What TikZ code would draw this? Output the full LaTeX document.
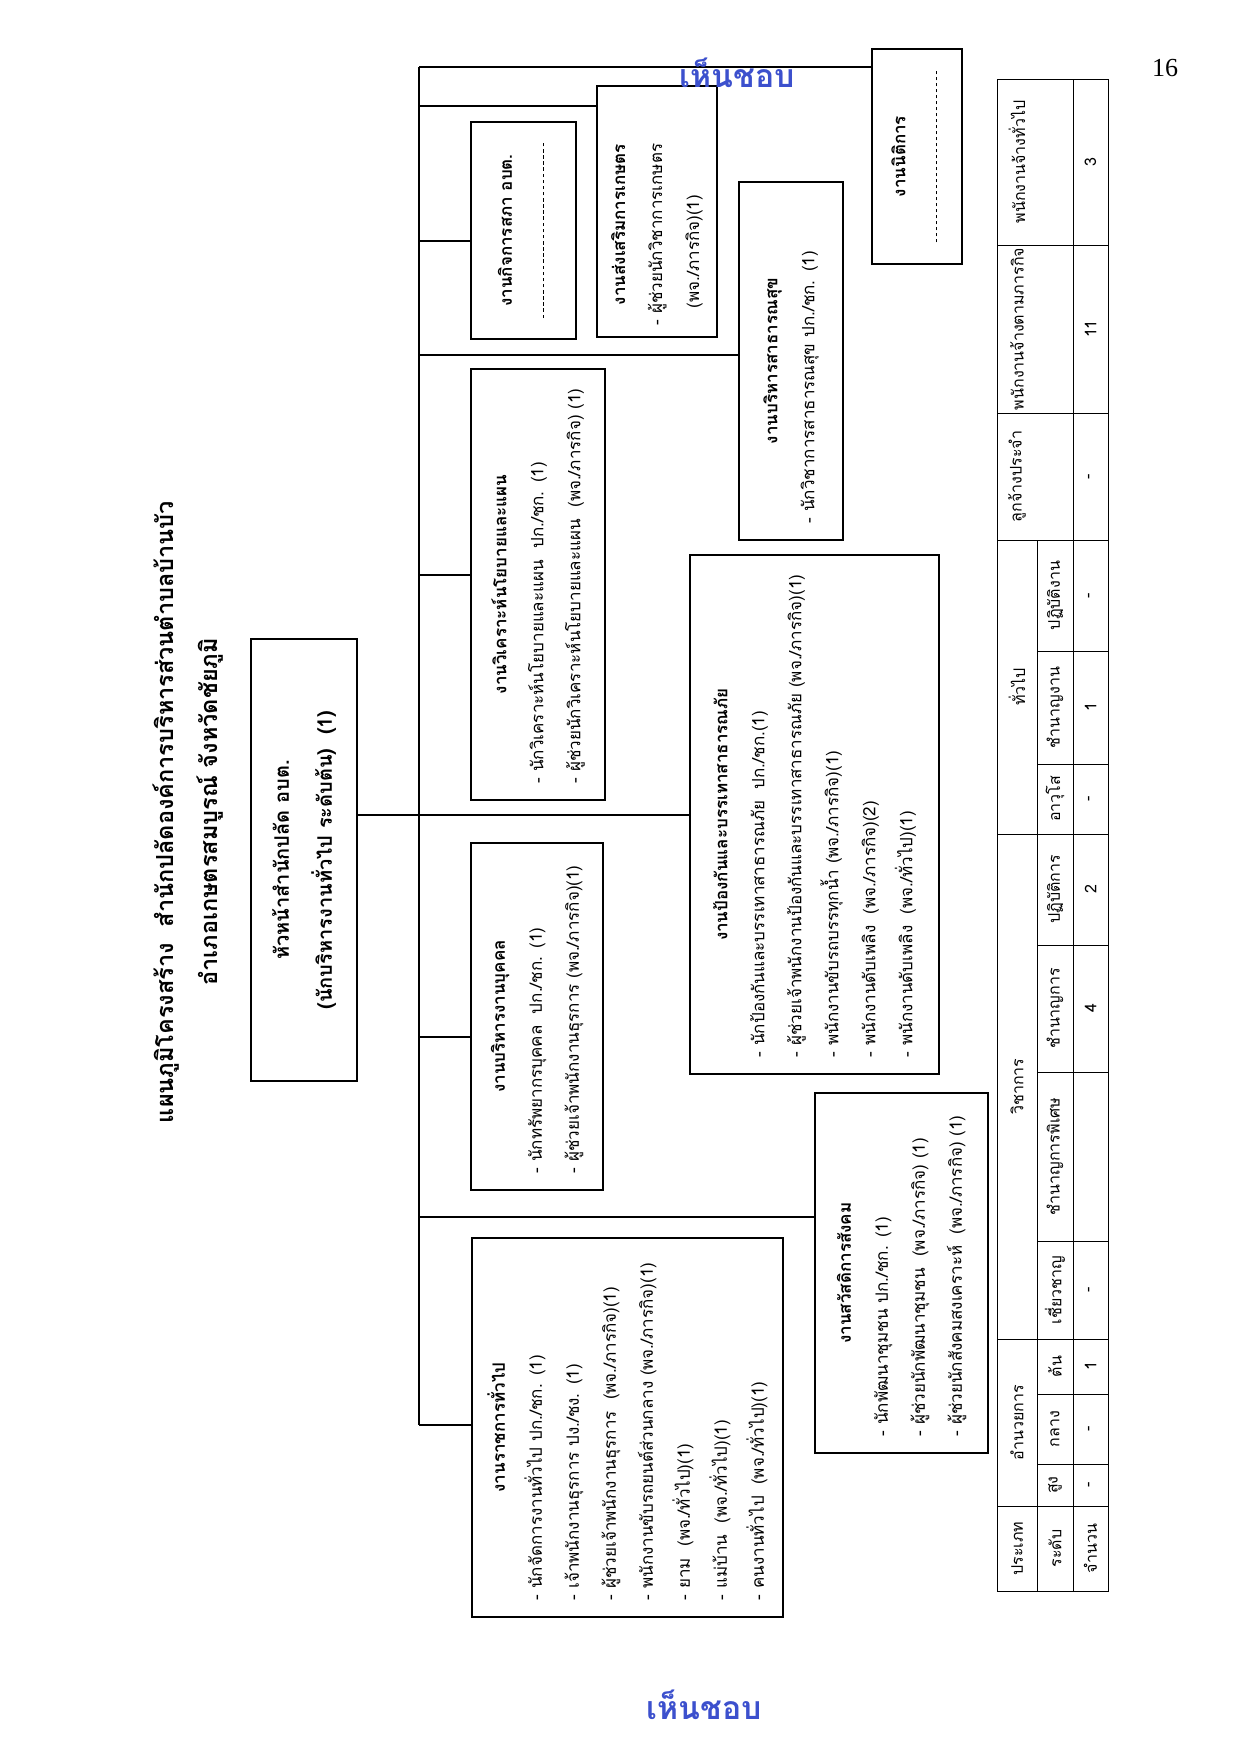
\documentclass[tikz,border=0pt]{standalone}
\usepackage{fontspec}
\setmainfont{Loma}[Script=Thai]
\newfontfamily\numfont{Liberation Serif}
\usetikzlibrary{positioning}
\definecolor{stampblue}{RGB}{60,80,205}
% a dashed rule inside a node
\newcommand{\dashfill}[1]{\makebox[#1]{\xleaders\hbox to 6pt{\hss\rule[5pt]{3.5pt}{1.2pt}\hss}\hfill}}

\begin{document}
\begin{tikzpicture}[x=1pt, y=-1pt, box/.style={draw, line width=2.4pt, rotate=90, inner xsep=17pt, inner ysep=0pt, align=left, font=\fontsize{17}{37}\selectfont}, cbox/.style={box, align=center}, ln/.style={line width=2pt}, tab/.style={line width=1pt}, cell/.style={rotate=90, inner sep=0pt, font=\fontsize{16}{20}\selectfont}, stamp/.style={text=stampblue, font=\bfseries\fontsize{32}{34}\selectfont}]
                \useasboundingbox (0,0) rectangle (1240,1753);
                % title and page number
                \node[rotate=90, align=center, font=\bfseries\fontsize{23.5}{44}\selectfont] (title) at (188,812) {แผนภูมิโครงสร้าง\ \ สำนักปลัดองค์การบริหารส่วนตำบลบ้านบัว\\อำเภอเกษตรสมบูรณ์ จังหวัดชัยภูมิ};
                \node[font=\numfont\fontsize{26}{28}\selectfont] (page) at (1165,68) {16};
                % nodes
                \node[cbox, line width=2.8pt, minimum width=442pt, minimum height=106pt, font=\bfseries\fontsize{20}{43}\selectfont] (head) at (304,860) {หัวหน้าสำนักปลัด อบต.\\(นักบริหารงานทั่วไป ระดับต้น)\ \ (1)};
                \node[box, minimum width=431pt, minimum height=134pt, text width=397pt] (wikro) at (538,584.5) {\makebox[\hsize]{\bfseries งานวิเคราะห์นโยบายและแผน}\\- นักวิเคราะห์นโยบายและแผน\ \ ปก./ชก. (1)\\- ผู้ช่วยนักวิเคราะห์นโยบายและแผน\ \ (พจ./ภารกิจ) (1)};
                \node[box, minimum width=347pt, minimum height=132pt, text width=313pt] (bukkhon) at (537,1016.5) {\makebox[\hsize]{\bfseries งานบริหารงานบุคคล}\\- นักทรัพยากรบุคคล\ \ ปก./ชก. (1)\\- ผู้ช่วยเจ้าพนักงานธุรการ (พจ./ภารกิจ)(1)};
                \node[box, minimum width=379pt, minimum height=311pt, text width=345pt] (ratchakan) at (627.5,1427.5) {\makebox[\hsize]{\bfseries งานราชการทั่วไป}\\- นักจัดการงานทั่วไป ปก./ชก. (1)\\- เจ้าพนักงานธุรการ ปง./ชง. (1)\\- ผู้ช่วยเจ้าพนักงานธุรการ\ \ (พจ./ภารกิจ)(1)\\- พนักงานขับรถยนต์ส่วนกลาง (พจ./ภารกิจ)(1)\\- ยาม\ \ (พจ./ทั่วไป)(1)\\- แม่บ้าน\ \ (พจ./ทั่วไป)(1)\\- คนงานทั่วไป\ \ (พจ./ทั่วไป)(1)};
                \node[cbox, minimum width=217pt, minimum height=105pt] (sapha) at (523.5,230.5) {{\bfseries งานกิจการสภา อบต.}\\\dashfill{178pt}};
                \node[box, inner xsep=12pt, minimum width=251pt, minimum height=120pt, text width=227pt] (kaset) at (657,211.5) {\hspace*{20pt}{\bfseries งานส่งเสริมการเกษตร}\\- ผู้ช่วยนักวิชาการเกษตร\\\hspace*{17pt}(พจ./ภารกิจ)(1)};
                \node[box, minimum width=358pt, minimum height=104pt, text width=324pt] (satha) at (791,361) {\makebox[\hsize]{\bfseries งานบริหารสาธารณสุข}\\- นักวิชาการสาธารณสุข ปก./ชก. (1)};
                \node[box, minimum width=519pt, minimum height=249pt, text width=485pt] (pongkan) at (814.5,814.5) {\makebox[\hsize]{\bfseries งานป้องกันและบรรเทาสาธารณภัย}\\- นักป้องกันและบรรเทาสาธารณภัย\ \ ปก./ชก.(1)\\- ผู้ช่วยเจ้าพนักงานป้องกันและบรรเทาสาธารณภัย (พจ./ภารกิจ)(1)\\- พนักงานขับรถบรรทุกน้ำ (พจ./ภารกิจ)(1)\\- พนักงานดับเพลิง\ \ (พจ./ภารกิจ)(2)\\- พนักงานดับเพลิง\ \ (พจ./ทั่วไป)(1)};
                \node[box, minimum width=360pt, minimum height=173pt, text width=326pt] (sawat) at (901.5,1273) {\makebox[\hsize]{\bfseries งานสวัสดิการสังคม}\\- นักพัฒนาชุมชน ปก./ชก. (1)\\- ผู้ช่วยนักพัฒนาชุมชน\ \ (พจ./ภารกิจ) (1)\\- ผู้ช่วยนักสังคมสงเคราะห์\ \ (พจ./ภารกิจ) (1)};
                \node[cbox, minimum width=215pt, minimum height=90pt] (niti) at (917,156.5) {{\bfseries งานนิติการ}\\\dashfill{174pt}};
                % junctions on the main line
                \coordinate (busR) at (419,67);
                \foreach \b/\yy in {kaset/106, sapha/241, satha/355, wikro/575, bukkhon/1037, sawat/1217, ratchakan/1425}
                    \coordinate (j-\b) at (419,\yy);
                % edges
                \draw[ln] (busR) -- (j-ratchakan);
                \draw[ln] (busR) -- (busR -| niti.north);
                \foreach \b in {kaset, sapha, satha, wikro, bukkhon, sawat, ratchakan}
                    \draw[ln] (j-\b) -- (j-\b -| \b.north);
                \draw[ln] (head.south |- pongkan.north) -- (pongkan.north);
                % table
                \draw[tab] (997,79) rectangle (1108,1591);
                \draw[tab] (1073,79) -- (1073,1591);
                \draw[tab] (1037,540) -- (1037,1591);
                \foreach \yy in {1506, 1339, 834, 540, 413, 245}
                    \draw[tab] (997,\yy) -- (1108,\yy);
                \foreach \yy in {1464, 1394, 1241, 1072, 945, 764, 651}
                    \draw[tab] (1037,\yy) -- (1108,\yy);
                \foreach \yy/\t in {1548.5/ประเภท, 1422.5/อำนวยการ, 1086.5/วิชาการ, 687/ทั่วไป, 476.5/ลูกจ้างประจำ, 329/พนักงานจ้างตามภารกิจ, 162/พนักงานจ้างทั่วไป}
                    \node[cell] at (1017,\yy) {\t};
                \foreach \yy/\t/\v in {1548.5/ระดับ/จำนวน, 1485/สูง/-, 1429/กลาง/-, 1366.5/ต้น/1, 1290/เชี่ยวชาญ/-, 1156.5/ชำนาญการพิเศษ/{}, 1008.5/ชำนาญการ/4, 889.5/ปฏิบัติการ/2, 799/อาวุโส/-, 707.5/ชำนาญงาน/1, 595.5/ปฏิบัติงาน/-}
                    {\node[cell] at (1055,\yy) {\t};
                     \node[cell] at (1090.5,\yy) {\v};}
                \foreach \yy/\v in {476.5/-, 329/11, 162/3}
                    \node[cell] at (1090.5,\yy) {\v};
                % stamps
                \node[stamp] (okTop) at (737,73) {เห็นชอบ};
                \node[stamp] (okBottom) at (704,1705) {เห็นชอบ};
            \end{tikzpicture}
\end{document}
